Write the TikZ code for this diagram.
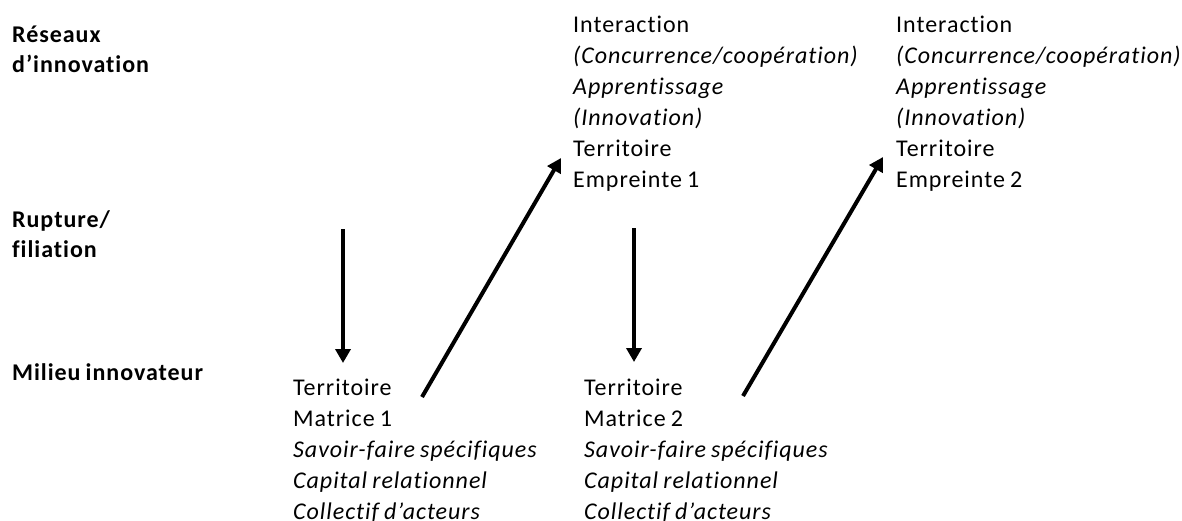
\documentclass[tikz,border=0pt]{standalone}
\usepackage{fontspec}
\setmainfont{Carlito}[LetterSpace=4,Ligatures={NoCommon,NoContextual},WordSpace=0.8]
\usetikzlibrary{arrows.meta}
\begin{document}
\begin{tikzpicture}[x=1pt,y=-1pt,
  txt/.style={anchor=base west,inner sep=0pt,font=\fontsize{24}{28}\selectfont},
  lbl/.style={anchor=base west,inner sep=0pt,font=\fontsize{24}{28}\selectfont\bfseries},
  arr/.style={line width=4pt,-{Triangle[width=15pt,length=14pt]}}]
\useasboundingbox (0,0) rectangle (1182,520);
% left labels
\node[lbl] (l1) at (12,42) {Réseaux};
\node[lbl] (l2) at (12,72) {d’innovation};
\node[lbl] (l3) at (12,227) {Rupture/};
\node[lbl] (l4) at (12,257) {filiation};
\node[lbl] (l5) at (12,380) {Milieu innovateur};
% top columns
\foreach \c/\x/\n in {a/573/1, b/896/2}{
  \node[txt] (\c1) at (\x,32) {Interaction};
  \node[txt] (\c2) at (\x,63) {\itshape (Concurrence/coopération)};
  \node[txt] (\c3) at (\x,94) {\itshape Apprentissage};
  \node[txt] (\c4) at (\x,125) {\itshape (Innovation)};
  \node[txt] (\c5) at (\x,156) {Territoire};
  \node[txt] (\c6) at (\x,187) {Empreinte \n};
}
% bottom columns
\foreach \c/\x/\n in {m/293/1, n/584/2}{
  \node[txt] (\c1) at (\x,395) {Territoire};
  \node[txt] (\c2) at (\x,426) {Matrice \n};
  \node[txt] (\c3) at (\x,457) {\itshape Savoir-faire spécifiques};
  \node[txt] (\c4) at (\x,488) {\itshape Capital relationnel};
  \node[txt] (\c5) at (\x,519) {\itshape Collectif d’acteurs};
}
% arrow end points
\coordinate (d1s) at (343,229);
\coordinate (d1e) at (343,363);
\coordinate (u1s) at (422,397);
\coordinate (u1e) at (561,158);
\coordinate (d2s) at (634,228);
\coordinate (d2e) at (634,362);
\coordinate (u2s) at (743,396);
\coordinate (u2e) at (883,157);
\draw[arr] (d1s) -- (d1e);
\draw[arr] (u1s) -- (u1e);
\draw[arr] (d2s) -- (d2e);
\draw[arr] (u2s) -- (u2e);
\end{tikzpicture}
\end{document}
